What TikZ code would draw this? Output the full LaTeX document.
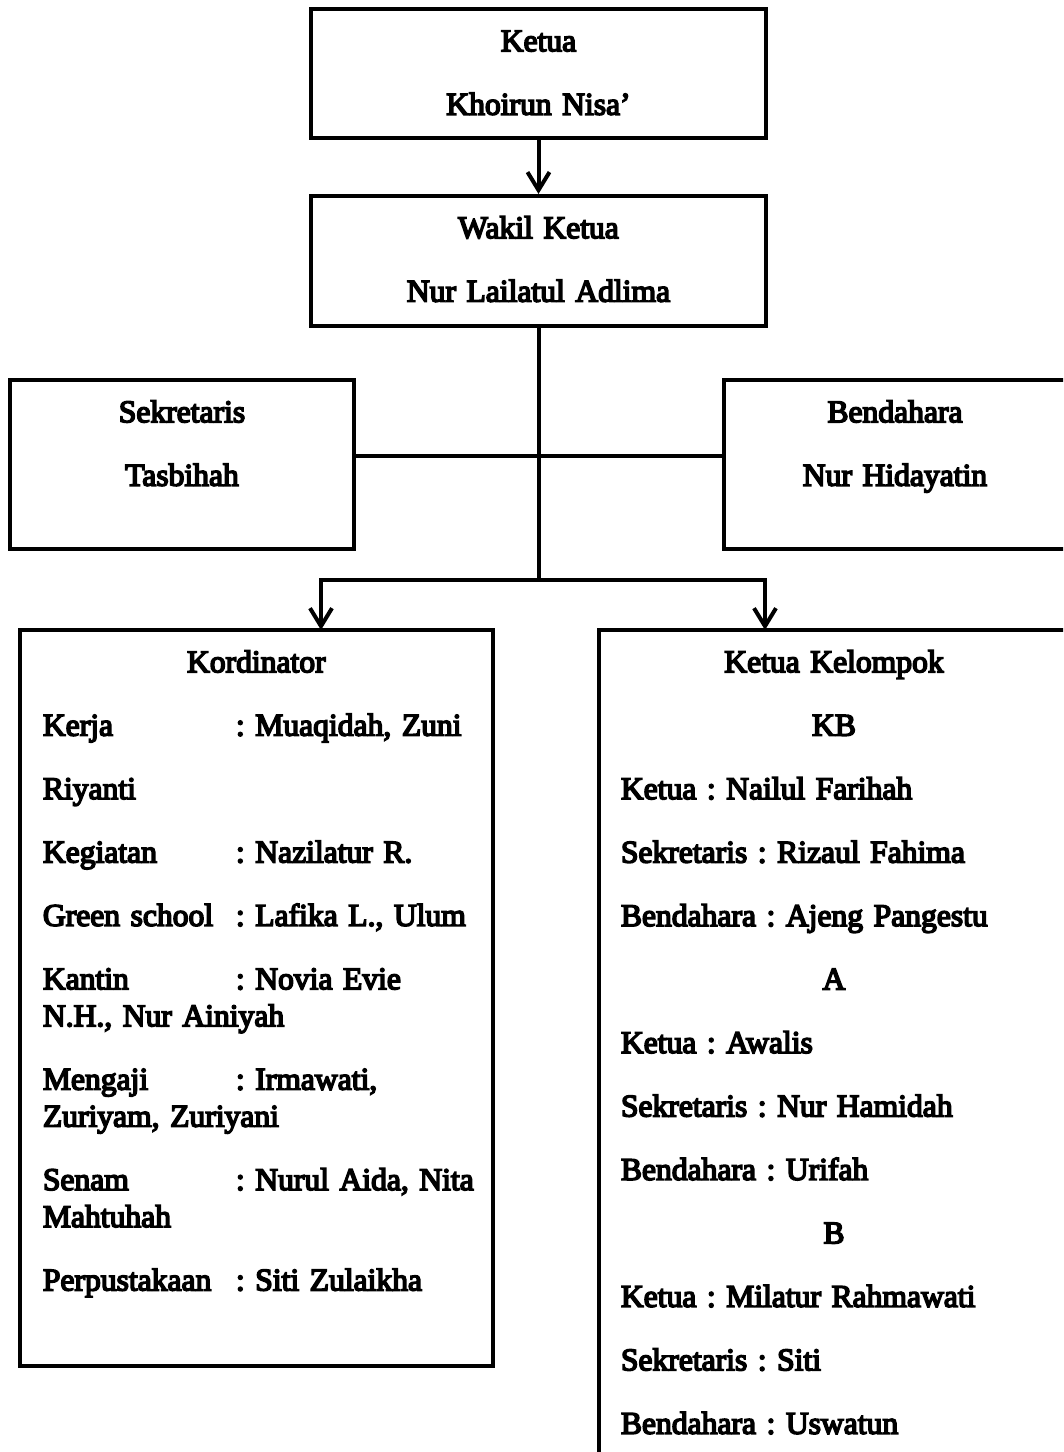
\documentclass[tikz,border=0pt]{standalone}
\usepackage{fontspec}
\setmainfont{Liberation Serif}[FakeBold=5]
\usetikzlibrary{arrows.meta,positioning}

\newcommand{\kordtab}[1]{\makebox[72.4pt][l]{#1}}
\frenchspacing

\begin{document}
\begin{tikzpicture}[x=0.375pt, y=-0.375pt, line width=1.5pt,
    >={Straight Barb[length=6.75pt,width=8.25pt]},
    box/.style={rectangle, draw, line width=1.5pt},
    boxtext/.style={inner sep=0pt, font=\fontsize{11.85}{23.8}\selectfont}]

  \useasboundingbox (0,0) rectangle (1063,1452);
  \clip (0,0) rectangle (1063,1452);

  % boxes
  \node[box, minimum width=170.6pt, minimum height=48.4pt] (ketua) at (538.5,73.5) {};
  \node[box, minimum width=170.6pt, minimum height=48.8pt] (wakil) at (538.5,261) {};
  \node[box, minimum width=129pt, minimum height=63.4pt] (sekre) at (182,464.5) {};
  \node[box, minimum width=128.3pt, minimum height=63.4pt] (benda) at (895,464.5) {};
  \node[box, minimum width=177.4pt, minimum height=276pt] (kord) at (256.5,998) {};
  \node[box, minimum width=176.3pt, minimum height=318.8pt] (kelompok) at (834,1055) {};

  % texts
  \node[boxtext, text width=153pt, align=center, below=16.6pt of ketua.north, anchor=base]
    (ketuatext) {Ketua\\Khoirun Nisa'};
  \node[boxtext, text width=153pt, align=center, below=16.6pt of wakil.north, anchor=base]
    (wakiltext) {Wakil Ketua\\Nur Lailatul Adlima};
  \node[boxtext, text width=112pt, align=center, below=16.6pt of sekre.north, anchor=base]
    (sekretext) {Sekretaris\\Tasbihah};
  \node[boxtext, text width=112pt, align=center, below=16.6pt of benda.north, anchor=base]
    (bendatext) {Bendahara\\Nur Hidayatin};

  \node[boxtext, font=\fontsize{11.85}{13.875}\selectfont, text width=175pt, align=left,
    below right=16.6pt and 8.6pt of kord.north west, anchor=base west] (kordtext) {%
    \makebox[160.1pt]{Kordinator}\\[9.9pt]
    \kordtab{Kerja}: Muaqidah, Zuni\\[9.9pt]
    Riyanti\\[9.9pt]
    \kordtab{Kegiatan}: Nazilatur R.\\[9.9pt]
    \kordtab{Green school}: Lafika L., Ulum\\[9.9pt]
    \kordtab{Kantin}: Novia Evie\\
    N.H., Nur Ainiyah\\[9.9pt]
    \kordtab{Mengaji}: Irmawati,\\
    Zuriyam, Zuriyani\\[9.9pt]
    \kordtab{Senam}: Nurul Aida, Nita\\
    Mahtuhah\\[9.9pt]
    \kordtab{Perpustakaan}: Siti Zulaikha};

  \node[boxtext, text width=159.8pt, align=left, below=16.6pt of kelompok.north, anchor=base]
    (kelompoktext) {%
    \makebox[\linewidth]{Ketua Kelompok}\\
    \makebox[\linewidth]{KB}\\
    Ketua : Nailul Farihah\\
    Sekretaris : Rizaul Fahima\\
    Bendahara : Ajeng Pangestu\\
    \makebox[\linewidth]{A}\\
    Ketua : Awalis\\
    Sekretaris : Nur Hamidah\\
    Bendahara : Urifah\\
    \makebox[\linewidth]{B}\\
    Ketua : Milatur Rahmawati\\
    Sekretaris : Siti\\
    Bendahara : Uswatun};

  % connectors
  \coordinate (cross) at (538.5,456);
  \coordinate (split) at (538.5,580);
  \coordinate (kordtop) at (321,630);
  \coordinate (keltop) at (765,630);

  \draw[->] (ketua) -- (wakil);
  \draw (wakil) -- (split);
  \draw (sekre.east |- cross) -- (benda.west |- cross);
  \draw[->] (split) -| (kordtop);
  \draw[->] (split) -| (keltop);

\end{tikzpicture}
\end{document}
